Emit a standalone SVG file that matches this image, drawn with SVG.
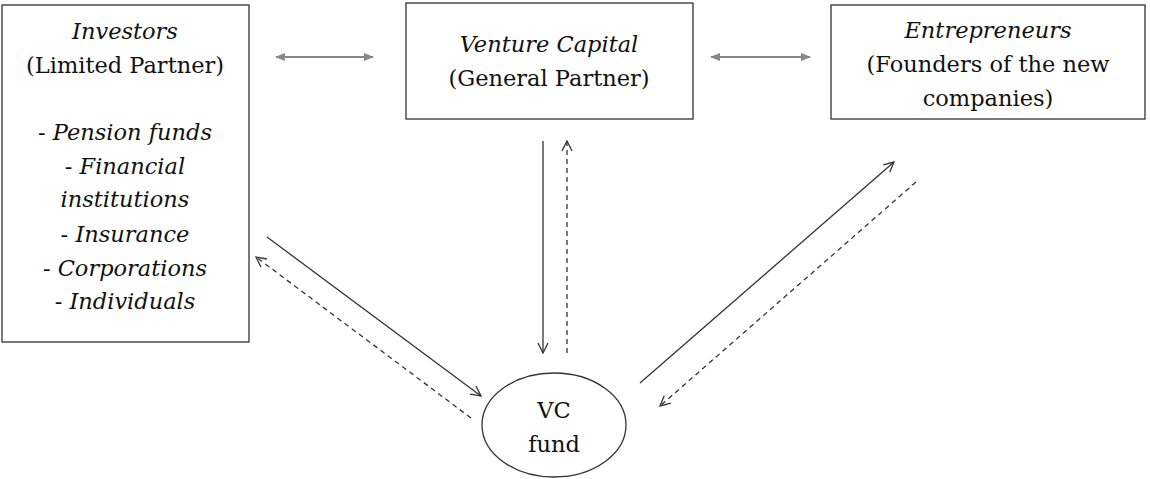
<svg xmlns="http://www.w3.org/2000/svg" width="1150" height="479" viewBox="0 0 1150 479">
<style>
.box{fill:#fff;stroke:#333;stroke-width:1.3}
text{font-family:'DejaVu Serif','Liberation Serif','Times New Roman',serif;font-size:22.5px;fill:#111;text-anchor:middle}
.i{font-style:italic}
.c{stroke:#333;stroke-width:1.3;fill:none}
.d{stroke-dasharray:5,4}
.g{stroke:#888;stroke-width:2;fill:none}
</style>
<defs>
<marker id="open" viewBox="0 0 12 12" refX="11" refY="6" markerWidth="12" markerHeight="12" markerUnits="userSpaceOnUse" orient="auto">
<path d="M1,1 L11,6 L1,11" fill="none" stroke="#333" stroke-width="1.3"/>
</marker>
<marker id="gray" viewBox="0 0 10 10" refX="9" refY="5" markerWidth="10" markerHeight="10" markerUnits="userSpaceOnUse" orient="auto-start-reverse">
<path d="M0,1 L10,5 L0,9 Z" fill="#888"/>
</marker>
</defs>
<rect width="1150" height="479" fill="#fff"/>
<g id="investors">
<rect class="box" x="2" y="5" width="247" height="337"/>
<text class="i" x="125" y="39">Investors</text>
<text x="125" y="73">(Limited Partner)</text>
<text x="125" y="140">- <tspan class="i">Pension funds</tspan></text>
<text x="125" y="174">- <tspan class="i">Financial</tspan></text>
<text class="i" x="125" y="207">institutions</text>
<text x="125" y="242">- <tspan class="i">Insurance</tspan></text>
<text x="125" y="276">- <tspan class="i">Corporations</tspan></text>
<text x="125" y="309">- <tspan class="i">Individuals</tspan></text>
</g>
<g id="venture-capital">
<rect class="box" x="406" y="3" width="287" height="116"/>
<text class="i" x="549" y="52">Venture Capital</text>
<text x="549" y="86">(General Partner)</text>
</g>
<g id="entrepreneurs">
<rect class="box" x="831" y="5" width="314" height="114"/>
<text class="i" x="988" y="38">Entrepreneurs</text>
<text x="988" y="72">(Founders of the new</text>
<text x="988" y="106">companies)</text>
</g>
<g id="vc-fund">
<ellipse class="box" cx="554" cy="425" rx="72" ry="52"/>
<text x="554" y="418">VC</text>
<text x="554" y="452">fund</text>
</g>
<g id="connectors">
<line class="g" x1="276" y1="57" x2="373" y2="57" marker-start="url(#gray)" marker-end="url(#gray)"/>
<line class="g" x1="711" y1="57" x2="810" y2="57" marker-start="url(#gray)" marker-end="url(#gray)"/>
<line class="c" x1="543" y1="141" x2="543" y2="353" marker-end="url(#open)"/>
<line class="c d" x1="567" y1="353" x2="567" y2="141" marker-end="url(#open)"/>
<line class="c" x1="267" y1="237" x2="481" y2="396" marker-end="url(#open)"/>
<line class="c d" x1="471" y1="418" x2="256" y2="257" marker-end="url(#open)"/>
<line class="c" x1="640" y1="383" x2="894" y2="162" marker-end="url(#open)"/>
<line class="c d" x1="916" y1="182" x2="660" y2="406" marker-end="url(#open)"/>
</g>
</svg>
